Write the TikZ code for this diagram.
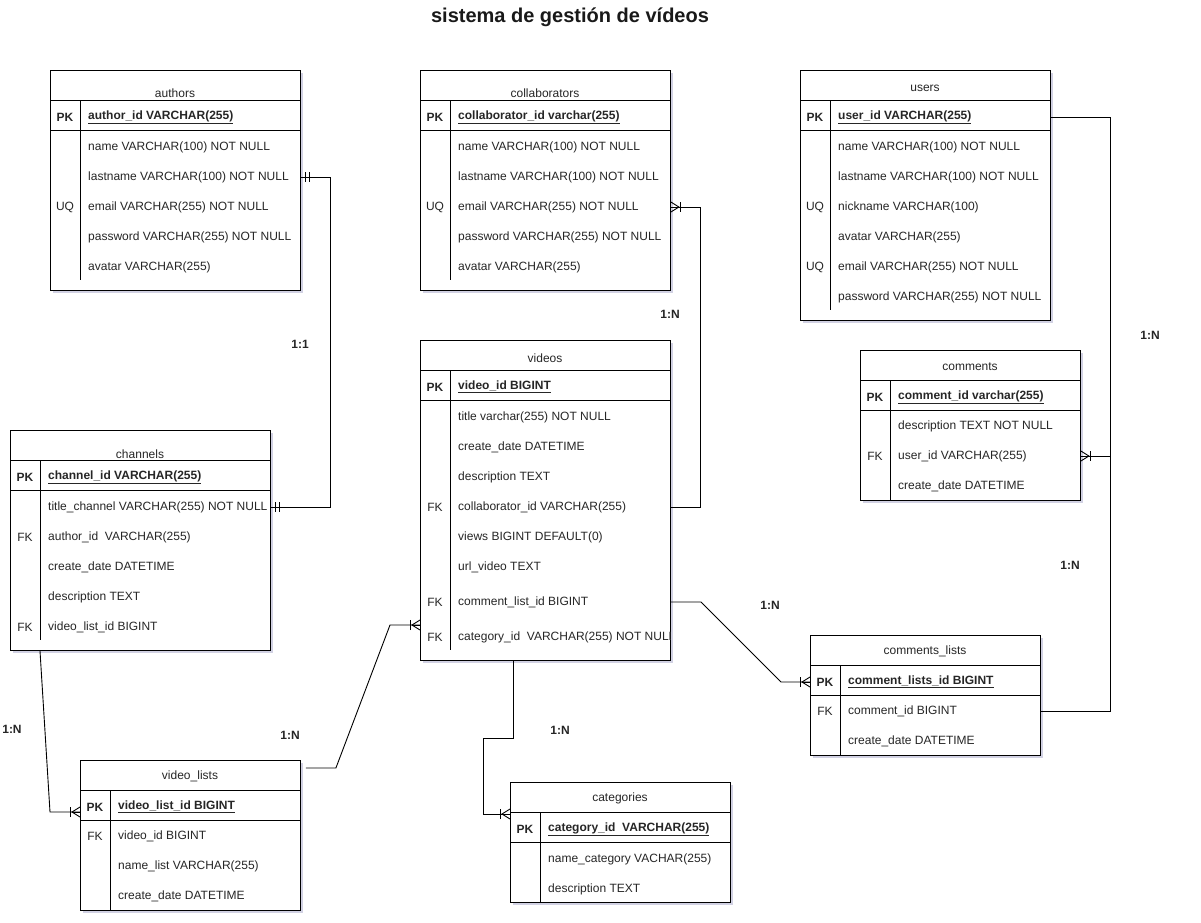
\documentclass[tikz,border=0pt]{standalone}
\usepackage{fontspec}
\setmainfont{Liberation Sans}
\usetikzlibrary{shadows,calc}
\tikzset{
 tbox/.style={draw=black, line width=0.9pt, fill=white, inner sep=0pt,
   drop shadow={shadow xshift=2.5pt, shadow yshift=-2.5pt, opacity=0.18, fill=black!60!blue}},
 tline/.style={draw=black, line width=0.9pt},
 ttitle/.style={font=\fontsize{12}{14}\selectfont, text=black!85, inner sep=0pt, yshift=-1.5pt},
 ttext/.style={font=\fontsize{12}{14}\selectfont, text=black!85, anchor=west, inner sep=0pt, yshift=-2pt},
 tkey/.style={font=\fontsize{12}{14}\selectfont, text=black!85, inner sep=0pt, yshift=-2pt},
 pkkey/.style={font=\fontsize{12}{14}\selectfont\bfseries, text=black!85, inner sep=0pt, yshift=-2pt},
 pktext/.style={font=\fontsize{12}{14}\selectfont\bfseries, text=black!85, anchor=west, inner sep=0pt, yshift=-2pt},
 conn/.style={draw=black, line width=0.9pt},
 card/.style={font=\fontsize{12}{14}\selectfont\bfseries, text=black!85, inner sep=0pt},
 crow/.pic={\draw[conn] (0,5) -- (8,0) -- (0,-5); \draw[conn] (0,0) -- (8,0); \draw[conn] (10,-5) -- (10,5);},
 mone/.pic={\draw[conn] (5,-5) -- (5,5); \draw[conn] (9,-5) -- (9,5);},
}
\newcommand{\ERtab}[9]{%
 \node[tbox, anchor=north west, minimum width=#4pt, minimum height=#5pt] (#1) at (#2,#3) {};
 \draw[tline] (#2,#3+30) -- ++(#4,0);
 \draw[tline] (#2,#3+60) -- ++(#4,0);
 \draw[tline] (#2+30,#3+30) -- (#2+30,#3+#5-#6);
 \node[ttitle] (#1-title) at (#2+#4/2,#3+#7) {#8};
 \node[pkkey] (#1-pkkey) at (#2+15,#3+45) {PK};
 \node[pktext] (#1-pk) at (#2+38,#3+45) {\underline{#9}};
}
\newcommand{\ERrows}[3]{%
 \foreach \k/\yy/\t in {#3} {
   \node[tkey] (#1-k\yy) at (#2+15,\yy) {\k};
   \node[ttext] (#1-r\yy) at (#2+38,\yy) {\t};
 }
}
\begin{document}
\begin{tikzpicture}[x=1pt,y=-1pt]
\useasboundingbox[fill=white] (0,0) rectangle (1201,922);
\node[font=\fontsize{20}{24}\selectfont\bfseries, text=black!90] (title) at (570,17) {sistema de gestión de vídeos};

% authors
\ERtab{authors}{50}{70}{250}{220}{10}{22}{authors}{author\_id VARCHAR(255)}
\ERrows{authors}{50}{{}/145/name VARCHAR(100) NOT NULL,{}/175/lastname VARCHAR(100) NOT NULL,UQ/205/email VARCHAR(255) NOT NULL,{}/235/password VARCHAR(255) NOT NULL,{}/265/avatar VARCHAR(255)}

% collaborators
\ERtab{collab}{420}{70}{250}{220}{10}{22}{collaborators}{collaborator\_id varchar(255)}
\ERrows{collab}{420}{{}/145/name VARCHAR(100) NOT NULL,{}/175/lastname VARCHAR(100) NOT NULL,UQ/205/email VARCHAR(255) NOT NULL,{}/235/password VARCHAR(255) NOT NULL,{}/265/avatar VARCHAR(255)}

% users
\ERtab{users}{800}{70}{250}{250}{10}{17}{users}{user\_id VARCHAR(255)}
\ERrows{users}{800}{{}/145/name VARCHAR(100) NOT NULL,{}/175/lastname VARCHAR(100) NOT NULL,UQ/205/nickname VARCHAR(100),{}/235/avatar VARCHAR(255),UQ/265/email VARCHAR(255) NOT NULL,{}/295/password VARCHAR(255) NOT NULL}

% comments
\ERtab{comments}{860}{350}{220}{150}{0}{15}{comments}{comment\_id varchar(255)}
\ERrows{comments}{860}{{}/424/description TEXT NOT NULL,FK/454/user\_id VARCHAR(255),{}/484/create\_date DATETIME}

% channels
\ERtab{channels}{10}{430}{260}{220}{10}{23}{channels}{channel\_id VARCHAR(255)}
\ERrows{channels}{10}{{}/505/title\_channel VARCHAR(255) NOT NULL,FK/535/author\_id\ \ VARCHAR(255),{}/565/create\_date DATETIME,{}/595/description TEXT,FK/625/video\_list\_id BIGINT}

% videos
\ERtab{videos}{420}{340}{250}{320}{10}{17}{videos}{video\_id BIGINT}
\ERrows{videos}{420}{{}/415/title varchar(255) NOT NULL,{}/445/create\_date DATETIME,{}/475/description TEXT,FK/505/collaborator\_id VARCHAR(255),{}/535/views BIGINT DEFAULT(0),{}/565/url\_video TEXT,FK/600/comment\_list\_id BIGINT}
\node[tkey] (videos-k635) at (435,635) {FK};
\begin{scope}
\clip (420,600) rectangle (670,660);
\node[ttext] (videos-r635) at (458,635) {category\_id\ \ VARCHAR(255) NOT NULL};
\end{scope}

% comments_lists
\ERtab{cl}{810}{635}{230}{120}{0}{15}{comments\_lists}{comment\_lists\_id BIGINT}
\ERrows{cl}{810}{FK/709/comment\_id BIGINT,{}/739/create\_date DATETIME}

% video_lists
\ERtab{vl}{80}{760}{220}{150}{0}{15}{video\_lists}{video\_list\_id BIGINT}
\ERrows{vl}{80}{FK/834/video\_id BIGINT,{}/864/name\_list VARCHAR(255),{}/894/create\_date DATETIME}

% categories
\ERtab{cat}{510}{782}{220}{120}{0}{15}{categories}{category\_id\ \ VARCHAR(255)}
\ERrows{cat}{510}{{}/857/name\_category VACHAR(255),{}/887/description TEXT}

% connectors
\coordinate (vlin) at (vl.west |- 0,812);
\coordinate (vdin) at (videos.west |- 0,625);
\coordinate (catin) at (cat.west |- 0,814);
\coordinate (vdout) at (videos.south -| 513,0);

\draw[conn] (authors.east |- authors-r175) -- ++(30,0) |- (channels.east |- channels-r505);
\pic at (authors.east |- authors-r175) {mone};
\pic at (channels.east |- channels-r505) {mone};

\draw[conn] (videos.east |- videos-r505) -- ++(30,0) |- (collab.east |- collab-r205);
\pic at (collab.east |- collab-r205) {crow};

\draw[conn] (users.east |- users-pk) -- ++(60,0) |- (comments.east |- comments-r454);
\draw[conn] (cl.east |- cl-r709) -- ++(70,0) |- (comments.east |- comments-r454);
\pic at (comments.east |- comments-r454) {crow};

\draw[conn] (videos.east |- videos-r600) -- ++(30,0) -- ++(80,80) -- (cl.west |- cl-pk);
\pic[rotate=180] at (cl.west |- cl-pk) {crow};

\draw[conn] ([xshift=30pt]channels.south west) -- ([xshift=-30pt]vlin) -- (vlin);
\pic[rotate=180] at (vlin) {crow};

\draw[conn] ([shift={(5,8)}]vl.north east) -- ++(30,0) -- ([xshift=-30pt]vdin) -- (vdin);
\pic[rotate=180] at (vdin) {crow};

\draw[conn] (vdout) -- ++(0,78) -- ++(-30,0) |- (catin);
\pic[rotate=180] at (catin) {crow};

% cardinality labels
\node[card] (c1) at (300,344) {1:1};
\node[card] (c2) at (670,314) {1:N};
\node[card] (c3) at (1150,335) {1:N};
\node[card] (c4) at (1070,565) {1:N};
\node[card] (c5) at (770,605) {1:N};
\node[card] (c6) at (12,729) {1:N};
\node[card] (c7) at (290,735) {1:N};
\node[card] (c8) at (560,730) {1:N};
\end{tikzpicture}
\end{document}
